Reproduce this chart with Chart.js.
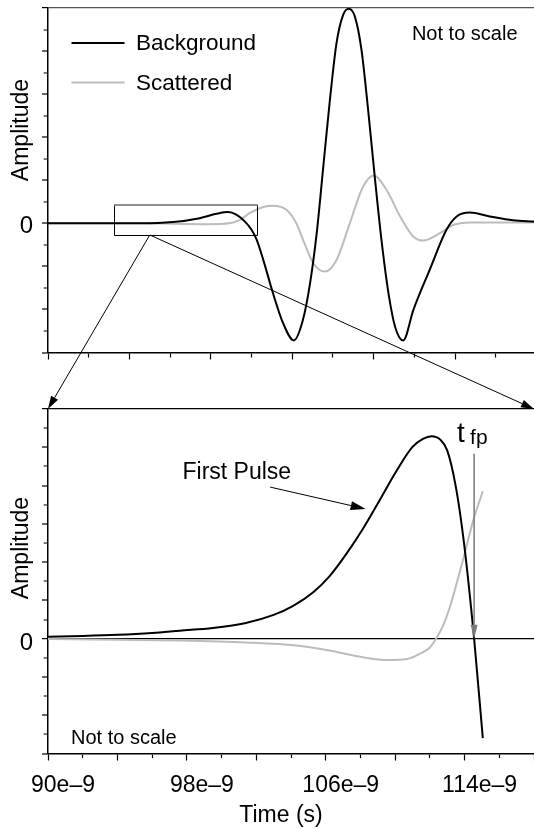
<!DOCTYPE html>
<html>
<head>
<meta charset="utf-8">
<title>Background and scattered pulses</title>
<script src="https://cdn.jsdelivr.net/npm/chart.js@4.4.1/dist/chart.umd.min.js"></script>
<style>
  html, body { margin: 0; padding: 0; background: #fff; }
  #stage { position: relative; width: 534px; height: 829px; }
  #stage canvas { position: absolute; left: 0; top: 0; width: 534px; height: 829px; }
</style>
</head>
<body>
<div id="stage">
  <canvas id="overview" width="534" height="829"></canvas>
  <canvas id="detail" width="534" height="829"></canvas>
</div>
<script>
// ---------------- data (time in ns) ----------------
const seriesNames = ['Background', 'Scattered'];

// whole record
const overviewBgTime = [77, 87.2, 95.0, 101.6, 106.8, 110.1, 112.4, 114.0, 115.7, 117.0, 118.0, 119.3, 121.2, 123.2, 125.3, 127.1, 128.5, 129.8, 131.1, 132.4, 133.7, 135.0, 136.1, 137.3, 138.6, 139.9, 141.2, 142.6, 143.9, 145.2, 146.8, 148.8, 152.0, 155.3, 157.3, 159.9, 163.8, 168.4, 172.5];
const overviewBgAmp  = [0, 0.0, 0.0, 0.03, 0.12, 0.22, 0.26, 0.20, 0.04, -0.15, -0.38, -0.85, -1.62, -2.32, -2.72, -2.24, -1.39, -0.23, 1.32, 2.87, 4.19, 4.84, 4.98, 4.80, 4.03, 2.64, 1.09, -0.46, -1.62, -2.40, -2.72, -2.01, -1.08, -0.15, 0.16, 0.25, 0.16, 0.07, 0.04];
const overviewScTime = [77, 95.0, 108.1, 112.7, 114.7, 116.7, 119.3, 121.2, 123.9, 125.8, 127.1, 129.1, 131.4, 133.7, 136.3, 138.9, 141.0, 143.5, 146.2, 148.8, 150.7, 154.0, 156.6, 159.9, 172.5];
const overviewScAmp  = [0, 0, -0.02, 0.0, 0.08, 0.24, 0.38, 0.41, 0.31, 0.0, -0.38, -0.92, -1.12, -0.85, 0.0, 0.85, 1.11, 0.78, 0.16, -0.31, -0.40, -0.23, -0.04, 0.02, 0.02];
const overviewTickTimes = [77, 85, 93, 101, 109, 117, 125, 133, 141, 149, 157, 165, 173];

// close-up of the first pulse
const detailBgTime = [90, 92, 94, 96, 97.6, 99.5, 101.4, 103.0, 104.1, 105.3, 106.2, 107.2, 108.2, 109.1, 110.1, 111.0, 111.6, 112.1, 112.6, 113.0, 113.5, 113.95, 114.55, 115.05];
const detailBgAmp  = [0.05, 0.07, 0.10, 0.15, 0.21, 0.28, 0.41, 0.62, 0.85, 1.22, 1.62, 2.22, 2.91, 3.61, 4.40, 5.01, 5.22, 5.29, 5.20, 4.92, 3.96, 2.56, 0.0, -2.6];
const detailScTime = [90, 94, 97.6, 101.4, 104.3, 106.2, 108.2, 109.5, 110.7, 111.4, 112.0, 112.4, 112.8, 113.15, 113.95, 114.5, 115.05];
const detailScAmp  = [-0.01, -0.03, -0.05, -0.10, -0.18, -0.31, -0.49, -0.56, -0.53, -0.40, -0.23, 0.03, 0.38, 0.82, 2.13, 3.09, 3.85];
const detailLabelTimes = [90, 98, 106, 114];

// first-pulse arrival time and the magnified window
const tFirstPulse = 114.55;
const tfpArrowTopAmp = 4.83;
const zoomWindowAmp = [-0.27, 0.43];
const zoomPivotTime = 97;
const firstPulseText = { t: 97.75, amp: 4.18 };
const firstPulsePointer = { fromT: 102.8, fromAmp: 3.96, toT: 108.3, toAmp: 3.39 };

// ---------------- styling helpers ----------------
const FONT = "'Liberation Sans', Arial, Helvetica, sans-serif";
Chart.defaults.font.family = FONT;
Chart.defaults.color = '#000';

const BLACK = '#000000';
const GREY = '#bcbcbc';
const AXIS_W = 1.5;

const pts = (xs, ys) => xs.map((x, i) => ({ x, y: ys[i] }));

function lineDataset(label, color, data) {
  return {
    label, data, borderColor: color, backgroundColor: color,
    borderWidth: 2, pointRadius: 0, fill: false,
    cubicInterpolationMode: 'monotone'
  };
}

// y axis: major ticks on whole units, shorter minor ticks on halves
function amplitudeAxis(min, max, lineAt, zeroOffset) {
  return {
    type: 'linear', position: 'left', min, max,
    border: { display: true, color: BLACK, width: AXIS_W },
    grid: {
      drawOnChartArea: true, drawTicks: true, tickLength: 6,
      color: (c) => lineAt(c.tick.value) || 'rgba(0,0,0,0)',
      lineWidth: (c) => (lineAt(c.tick.value) ? 1.2 : 0),
      tickColor: BLACK, tickWidth: 1.2,
      tickBorderDash: (c) => (Number.isInteger(c.tick.value) ? [] : [0, 1.6, 4, 60])
    },
    ticks: {
      stepSize: 0.5, autoSkip: false, padding: 9, labelOffset: zeroOffset,
      font: { size: 24 },
      callback: (v) => (v === 0 ? '0' : '')
    },
    afterFit: (s) => { s.width = 48; s.paddingTop = 0; s.paddingBottom = 0; }
  };
}

function arrow(ctx, x1, y1, x2, y2, len, half, color, width) {
  const a = Math.atan2(y2 - y1, x2 - x1);
  const bx = x2 - len * Math.cos(a), by = y2 - len * Math.sin(a);
  ctx.save();
  ctx.strokeStyle = color; ctx.fillStyle = color; ctx.lineWidth = width;
  ctx.beginPath(); ctx.moveTo(x1, y1); ctx.lineTo(bx, by); ctx.stroke();
  ctx.beginPath();
  ctx.moveTo(x2, y2);
  ctx.lineTo(bx + half * Math.sin(a), by - half * Math.cos(a));
  ctx.lineTo(bx - half * Math.sin(a), by + half * Math.cos(a));
  ctx.closePath(); ctx.fill();
  ctx.restore();
}

function verticalTitle(ctx, text, x, y) {
  ctx.save();
  ctx.translate(x, y);
  ctx.rotate(-Math.PI / 2);
  ctx.font = '23px ' + FONT;
  ctx.textAlign = 'center';
  ctx.textBaseline = 'alphabetic';
  ctx.fillStyle = BLACK;
  ctx.fillText(text, 0, 0);
  ctx.restore();
}

const detailRange = [90, 118];

// ---------------- overview panel ----------------
const overviewDecor = {
  id: 'overviewDecor',
  afterDraw(chart) {
    const { ctx, chartArea: ca, scales } = chart;
    // magnified window
    const xs = scales.x, ys = scales.y;
    const left = Math.round(xs.getPixelForValue(detailRange[0])) + 0.5;
    const right = Math.round(xs.getPixelForValue(detailRange[1])) + 0.5;
    const top = Math.round(ys.getPixelForValue(zoomWindowAmp[1]));
    const bottom = Math.round(ys.getPixelForValue(zoomWindowAmp[0])) + 0.5;
    ctx.save();
    ctx.strokeStyle = BLACK; ctx.lineWidth = 1;
    ctx.beginPath();
    ctx.moveTo(left, top); ctx.lineTo(left, bottom); ctx.lineTo(right, bottom); ctx.lineTo(right, top);
    ctx.stroke();
    ctx.strokeStyle = '#6a6a6a'; ctx.lineWidth = 1.5;
    ctx.beginPath(); ctx.moveTo(left - 0.5, top); ctx.lineTo(right + 0.5, top); ctx.stroke();
    ctx.restore();

    // legend
    ctx.save();
    ctx.font = '22.5px ' + FONT;
    ctx.textBaseline = 'middle';
    chart.data.datasets.forEach((ds, i) => {
      const y = ca.top + 35 + i * 39.5;
      ctx.strokeStyle = ds.borderColor; ctx.lineWidth = 2;
      ctx.beginPath(); ctx.moveTo(ca.left + 23.5, y); ctx.lineTo(ca.left + 76.5, y); ctx.stroke();
      ctx.fillStyle = BLACK;
      ctx.fillText(ds.label, ca.left + 88, y + 1);
    });
    ctx.font = '20px ' + FONT;
    ctx.textAlign = 'right';
    ctx.textBaseline = 'alphabetic';
    ctx.fillText('Not to scale', ca.right - 16.5, ca.top + 32);
    ctx.restore();

    verticalTitle(ctx, 'Amplitude', 28, ca.top + 122);
  }
};

const overviewChart = new Chart(document.getElementById('overview'), {
  type: 'line',
  data: {
    datasets: [
      lineDataset(seriesNames[0], BLACK, pts(overviewBgTime, overviewBgAmp)),
      lineDataset(seriesNames[1], GREY, pts(overviewScTime, overviewScAmp))
    ]
  },
  options: {
    responsive: false, animation: false, devicePixelRatio: 1,
    layout: { padding: { top: 8, right: 0, bottom: 829 - 352.5 - 12, left: 0 } },
    plugins: { legend: { display: false }, tooltip: { enabled: false } },
    scales: {
      x: {
        type: 'linear', position: 'bottom', min: 77, max: 172.5,
        border: { display: true, color: BLACK, width: AXIS_W },
        grid: {
          drawOnChartArea: false, drawTicks: true, tickLength: 7,
          tickColor: BLACK, tickWidth: 1.2,
          tickBorderDash: (c) => (c.index % 2 === 0 ? [] : [4, 60])
        },
        ticks: { autoSkip: false, maxRotation: 0, callback: () => '' },
        afterBuildTicks: (s) => { s.ticks = overviewTickTimes.map((v) => ({ value: v })); },
        afterFit: (s) => { s.height = 12; s.paddingLeft = 0; s.paddingRight = 0; }
      },
      y: amplitudeAxis(-3, 5, (v) => (v === 5 ? '#555555' : null), 3)
    }
  },
  plugins: [overviewDecor]
});

// ---------------- close-up panel ----------------
const detailDecor = {
  id: 'detailDecor',
  afterDraw(chart) {
    const { ctx, chartArea: ca, scales } = chart;
    const xs = scales.x, ys = scales.y;

    // connectors from the magnified window down to this panel
    const ox = overviewChart.scales.x.getPixelForValue(zoomPivotTime);
    const oy = overviewChart.scales.y.getPixelForValue(zoomWindowAmp[0]);
    arrow(ctx, ox, oy, ca.left, ca.top, 13, 4, BLACK, 1);
    arrow(ctx, ox, oy, ca.right, ca.top, 13, 4, BLACK, 1);

    // first-pulse arrival marker
    const tx = xs.getPixelForValue(tFirstPulse);
    const ty = ys.getPixelForValue(tfpArrowTopAmp);
    arrow(ctx, tx, ty, tx, ys.getPixelForValue(0), 14, 3.5, '#7a7a7a', 1.5);
    ctx.save();
    ctx.fillStyle = BLACK;
    ctx.textBaseline = 'alphabetic';
    ctx.font = '28px ' + FONT;
    ctx.fillText('t', tx - 17, ty - 11.5);
    ctx.font = '21px ' + FONT;
    ctx.fillText('fp', tx - 4, ty - 10);

    // "First Pulse" callout
    ctx.font = '23px ' + FONT;
    ctx.fillText('First Pulse', xs.getPixelForValue(firstPulseText.t), ys.getPixelForValue(firstPulseText.amp));
    ctx.restore();
    arrow(ctx,
      xs.getPixelForValue(firstPulsePointer.fromT), ys.getPixelForValue(firstPulsePointer.fromAmp),
      xs.getPixelForValue(firstPulsePointer.toT), ys.getPixelForValue(firstPulsePointer.toAmp),
      15, 4.5, BLACK, 1);

    // annotations and axis titles
    ctx.save();
    ctx.fillStyle = BLACK;
    ctx.font = '20px ' + FONT;
    ctx.textBaseline = 'alphabetic';
    ctx.fillText('Not to scale', ca.left + 23, ca.bottom - 9.5);
    ctx.font = '23px ' + FONT;
    ctx.textAlign = 'center';
    ctx.fillText('Time (s)', ca.left + 233, ca.bottom + 68);
    ctx.restore();
    verticalTitle(ctx, 'Amplitude', 28, ca.top + 139);
  }
};

new Chart(document.getElementById('detail'), {
  type: 'line',
  data: {
    datasets: [
      lineDataset(seriesNames[0], BLACK, pts(detailBgTime, detailBgAmp)),
      lineDataset(seriesNames[1], GREY, pts(detailScTime, detailScAmp))
    ]
  },
  options: {
    responsive: false, animation: false, devicePixelRatio: 1,
    layout: { padding: { top: 409, right: 0, bottom: 0, left: 0 } },
    plugins: { legend: { display: false }, tooltip: { enabled: false } },
    scales: {
      x: {
        type: 'linear', position: 'bottom', min: detailRange[0], max: detailRange[1],
        border: { display: true, color: BLACK, width: AXIS_W },
        grid: {
          drawOnChartArea: false, drawTicks: true, tickLength: 7,
          tickColor: BLACK, tickWidth: 1.2,
          tickBorderDash: (c) => ((c.tick.value - detailRange[0]) % 4 === 0 ? [] : [3.5, 60])
        },
        ticks: {
          stepSize: 2, autoSkip: false, maxRotation: 0, padding: 11, labelOffset: 15,
          font: { size: 23 },
          callback: (v) => (detailLabelTimes.includes(v) ? v + 'e\u20139' : '')
        },
        afterFit: (s) => { s.height = 829 - 753.5; s.paddingLeft = 0; s.paddingRight = 0; }
      },
      y: amplitudeAxis(-3, 6, (v) => (v === 6 || v === 0 ? BLACK : null), 5)
    }
  },
  plugins: [detailDecor]
});
</script>
</body>
</html>
